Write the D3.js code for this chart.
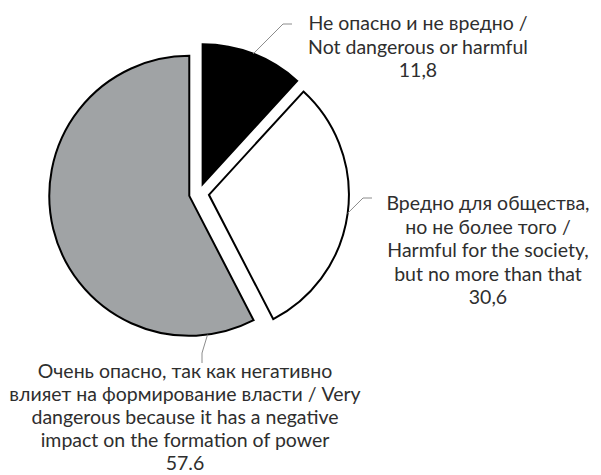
<!DOCTYPE html>
<html><head><meta charset="utf-8">
<script src="https://cdn.jsdelivr.net/npm/d3@7"></script>
<style>html,body{margin:0;padding:0;background:#fff}svg{display:block}</style>
</head><body>
<script>
const categories = [
  ["Не опасно и не вредно /", "Not dangerous or harmful"],
  ["Вредно для общества,", "но не более того /", "Harmful for the society,", "but no more than that"],
  ["Очень опасно, так как негативно", "влияет на формирование власти / Very", "dangerous because it has a negative", "impact on the formation of power"]
];
const values = [11.8, 30.6, 57.6];
const valueLabels = ["11,8", "30,6", "57.6"];
const colors = ["#000000", "#ffffff", "#a0a3a5"];

const W = 601, H = 475;
const cx = 199, cy = 193.5, R = 140, explode = 10;
const svg = d3.select("body").append("svg").attr("width", W).attr("height", H);

const pie = d3.pie().sort(null).value(d => d).startAngle(0).endAngle(2 * Math.PI);
const arcs = pie(values);
const arc = d3.arc().innerRadius(0).outerRadius(R);

const g = svg.append("g").attr("transform", `translate(${cx},${cy})`);
const offs = arcs.map(a => {
  const m = (a.startAngle + a.endAngle) / 2;
  return [explode * Math.sin(m), -explode * Math.cos(m)];
});
g.selectAll("path").data(arcs).join("path")
  .attr("d", arc)
  .attr("transform", (d, i) => `translate(${offs[i][0]},${offs[i][1]})`)
  .attr("fill", (d, i) => colors[i])
  .attr("stroke", "#000").attr("stroke-width", 2).attr("stroke-linejoin", "miter");

// label layout
const labelLayout = [
  { x: 418, y: 30, lh: 23.5, leadAngle: null, elbow: [283, 24], end: [292, 24] },
  { x: 488, y: 210, lh: 23.5, leadAngle: null, elbow: [363, 198], end: [372, 198] },
  { x: 185, y: 378, lh: 23, leadAngle: 172.5, elbow: [202, 353], end: [202, 363] }
];
arcs.forEach((a, i) => {
  const L = labelLayout[i];
  const ang = L.leadAngle !== null ? L.leadAngle * Math.PI / 180 : (a.startAngle + a.endAngle) / 2;
  const sx = cx + offs[i][0] + R * Math.sin(ang);
  const sy = cy + offs[i][1] - R * Math.cos(ang);
  svg.append("polyline")
    .attr("points", [[sx, sy], L.elbow, L.end].map(p => p.join(",")).join(" "))
    .attr("fill", "none").attr("stroke", "#8c8c8c").attr("stroke-width", 1);
  const lines = categories[i].concat([valueLabels[i]]);
  const t = svg.append("text")
    .attr("text-anchor", "middle")
    .attr("font-family", "Lato, 'Open Sans', sans-serif")
    .attr("font-size", 19.5)
    .attr("fill", "#2e2e2e");
  lines.forEach((s, k) => {
    t.append("tspan").attr("x", L.x).attr("y", L.y + k * L.lh).text(s);
  });
});
</script>
</body></html>
